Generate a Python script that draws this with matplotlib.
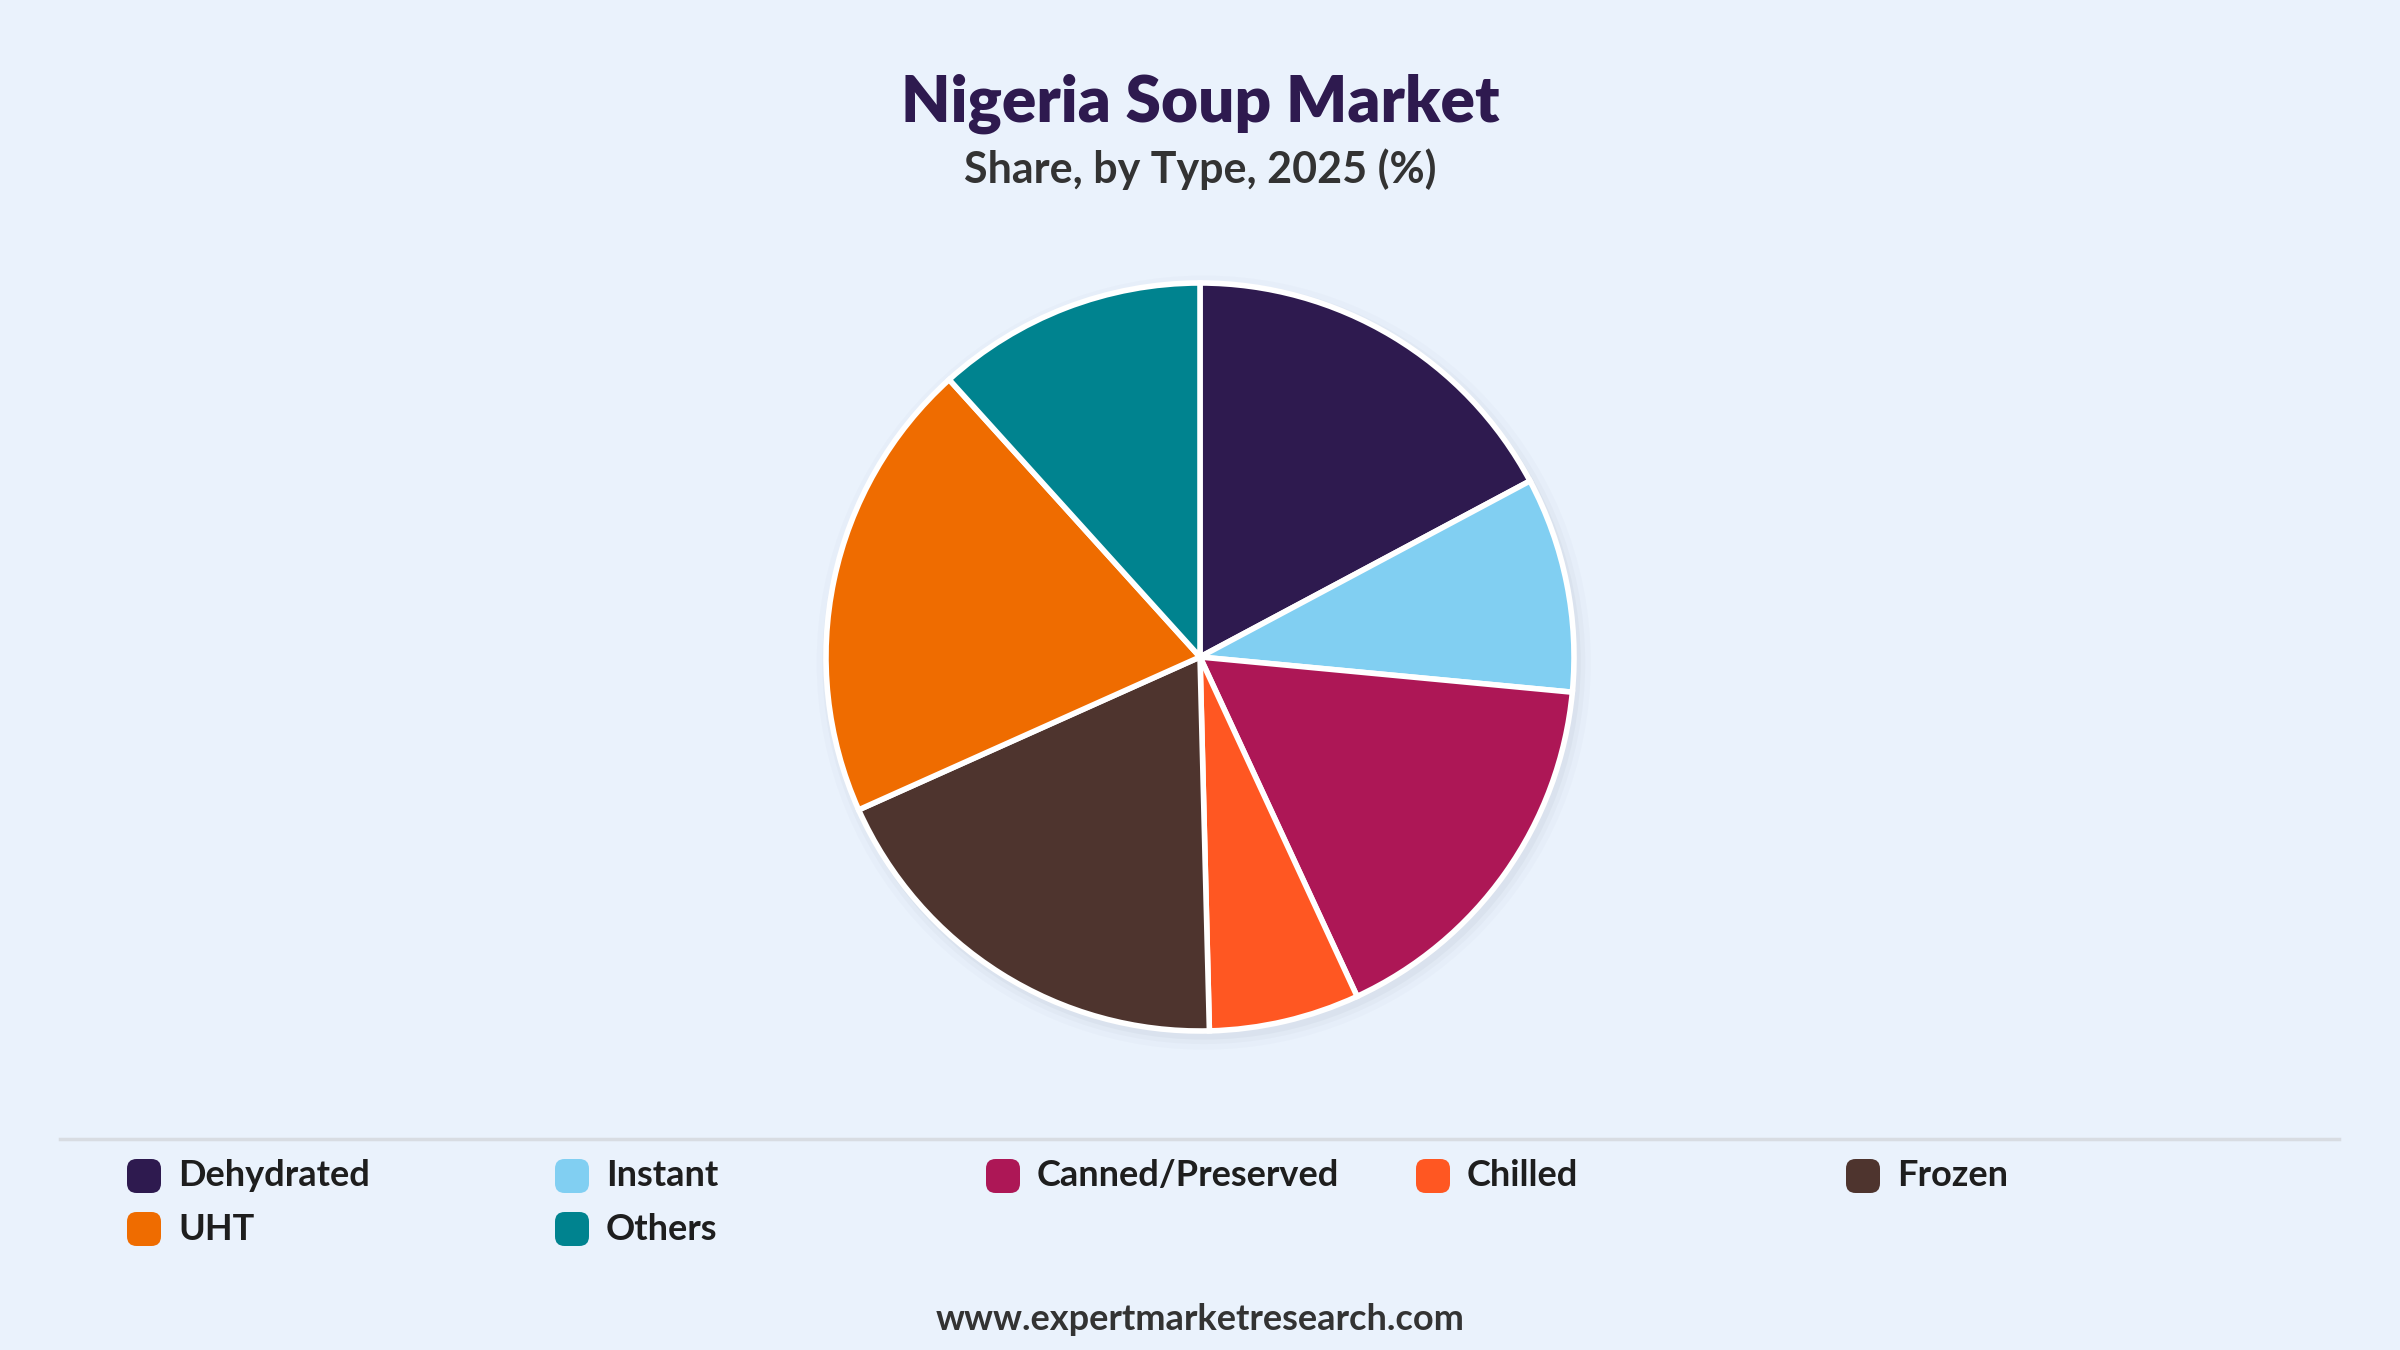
import matplotlib
matplotlib.use('Agg')
import matplotlib.pyplot as plt
from matplotlib.patches import FancyBboxPatch, Circle
from matplotlib.lines import Line2D

plt.rcParams['font.family'] = ['Lato', 'DejaVu Sans']

# data
types  = ['Dehydrated', 'Instant', 'Canned/Preserved', 'Chilled', 'Frozen', 'UHT', 'Others']
shares = [17.2, 9.3, 16.6, 6.5, 18.7, 20.0, 11.7]
colors = ['#2E1A4F', '#81CFF2', '#AD1756', '#FF5722', '#4E342E', '#EF6C00', '#00838F']

bg = '#EAF2FC'
W, H = 2400, 1350

def main():
    fig = plt.figure(figsize=(24, 13.5), dpi=100, facecolor=bg)

    fig.text(0.5, 0.923, 'Nigeria Soup Market', ha='center', va='center',
             fontsize=46, fontweight='heavy', color='#2E1A4F')
    fig.text(0.5, 0.875, 'Share, by Type, 2025 (%)', ha='center', va='center',
             fontsize=31, fontweight='bold', color='#333333')

    # pie, centre (1200, 657) px, radius ~374 px
    r = 374
    cx, cy = 1200, 657
    m = 1.06
    ax = fig.add_axes([(cx - r * m) / W, 1 - (cy + r * m) / H, 2 * r * m / W, 2 * r * m / H])
    ax.set_facecolor('none')

    # soft shadow
    for k, a in [(1.035, 0.025), (1.02, 0.035), (1.008, 0.05)]:
        ax.add_patch(Circle((0.01, -0.015), k, color='#5a6a80', alpha=a, lw=0, zorder=0))

    ax.pie(shares, colors=colors, startangle=90, counterclock=False, radius=1,
           wedgeprops=dict(edgecolor='white', linewidth=4))
    ax.set_xlim(-m, m)
    ax.set_ylim(-m, m)
    ax.set_aspect('equal')
    ax.axis('off')

    # separator line
    fig.add_artist(Line2D([60 / W, 2339 / W], [1 - 1139 / H] * 2,
                          color='#D8DCE2', lw=2.5, transform=fig.transFigure))

    # legend
    col_x = [144, 572, 1003, 1433, 1863]
    row_y = [1176, 1229]
    s = 34
    for i, (name, c) in enumerate(zip(types, colors)):
        row, col = divmod(i, 5)
        x, y = col_x[col], row_y[row]
        box = FancyBboxPatch(((x - s / 2) / W, 1 - (y + s / 2) / H), s / W, s / H,
                             boxstyle='round,pad=0,rounding_size=0.004',
                             transform=fig.transFigure, facecolor=c, edgecolor='none',
                             mutation_aspect=W / H)
        fig.add_artist(box)
        fig.text((x + 34) / W, 1 - y / H, name, ha='left', va='center',
                 fontsize=26, fontweight='bold', color='#1E1E1E')

    fig.text(0.5, 1 - 1319 / H, 'www.expertmarketresearch.com', ha='center', va='center',
             fontsize=26, fontweight='bold', color='#333333')

    fig.savefig('out.png', dpi=100, facecolor=bg)

if __name__ == '__main__':
    main()
